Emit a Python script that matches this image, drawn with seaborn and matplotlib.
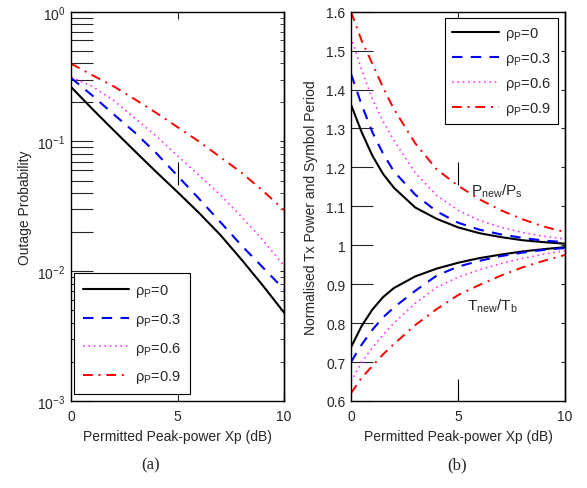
import numpy as np
import pandas as pd
import matplotlib
matplotlib.use("Agg")
import matplotlib.pyplot as plt
import seaborn as sns
from matplotlib.ticker import LogLocator, NullFormatter

sns.set_style("white")
plt.rcParams['font.family'] = ['Liberation Sans', 'DejaVu Sans']
plt.rcParams['mathtext.fontset'] = 'custom'
plt.rcParams['mathtext.rm'] = 'Liberation Sans'
plt.rcParams['mathtext.it'] = 'Liberation Sans'

rho_labels = [r'$\mathrm{\rho_P}$=0', r'$\mathrm{\rho_P}$=0.3',
              r'$\mathrm{\rho_P}$=0.6', r'$\mathrm{\rho_P}$=0.9']

# (a) outage probability vs permitted peak power Xp (dB)
xp_a = [0, 1, 2, 3, 4, 5, 6, 7, 8, 9, 10]
outage_0 = [0.263, 0.178, 0.122, 0.0841, 0.0582, 0.0407, 0.0282, 0.0191, 0.0123, 0.00776, 0.00479]
outage_3 = [0.309, 0.226, 0.162, 0.117, 0.0813, 0.0543, 0.0363, 0.0240, 0.0158, 0.0107, 0.00724]
outage_6 = [0.313, 0.266, 0.207, 0.151, 0.110, 0.0776, 0.0550, 0.0389, 0.0263, 0.0174, 0.0110]
outage_9 = [0.398, 0.324, 0.266, 0.211, 0.166, 0.129, 0.100, 0.0759, 0.0575, 0.0417, 0.0295]

# (b) normalised Tx power P_new/P_s and symbol period T_new/T_b
xp_b = [0, 0.5, 1, 1.5, 2, 3, 4, 5, 6, 7, 8, 9, 10]
power_0 = [1.361, 1.290, 1.230, 1.183, 1.148, 1.097, 1.068, 1.046, 1.031, 1.021, 1.013, 1.008, 1.004]
power_3 = [1.440, 1.360, 1.290, 1.235, 1.190, 1.130, 1.087, 1.058, 1.040, 1.028, 1.019, 1.012, 1.008]
power_6 = [1.535, 1.450, 1.375, 1.318, 1.270, 1.186, 1.128, 1.090, 1.064, 1.046, 1.033, 1.023, 1.016]
power_9 = [1.600, 1.525, 1.466, 1.405, 1.350, 1.262, 1.195, 1.153, 1.118, 1.090, 1.067, 1.048, 1.034]
period_0 = [0.738, 0.793, 0.835, 0.867, 0.890, 0.920, 0.940, 0.955, 0.967, 0.976, 0.984, 0.990, 0.995]
period_3 = [0.700, 0.745, 0.783, 0.815, 0.840, 0.883, 0.922, 0.945, 0.960, 0.972, 0.981, 0.988, 0.993]
period_6 = [0.650, 0.700, 0.737, 0.770, 0.800, 0.851, 0.892, 0.918, 0.937, 0.953, 0.966, 0.977, 0.986]
period_9 = [0.620, 0.660, 0.690, 0.720, 0.746, 0.795, 0.836, 0.872, 0.898, 0.922, 0.943, 0.960, 0.975]

styles = [dict(color='black', linestyle='-', linewidth=1.5),
          dict(color='#0000ff', linestyle=(0, (5, 4)), linewidth=1.5),
          dict(color='#ff33ff', linestyle=(0, (1, 2.2)), linewidth=1.2),
          dict(color='#ff0000', linestyle=(0, (5, 3, 1, 3)), linewidth=1.4)]

fig = plt.figure(figsize=(5.87, 4.89), dpi=100)
ax1 = fig.add_axes([0.121, 0.178, 0.363, 0.796])
ax2 = fig.add_axes([0.598, 0.178, 0.3646, 0.796])

# ---- (a)
for vals, lab, st in zip([outage_0, outage_3, outage_6, outage_9], rho_labels, styles):
    sns.lineplot(x=xp_a, y=vals, ax=ax1, label=lab, **st)
ax1.set_yscale('log')
ax1.set_xlim(0, 10)
ax1.set_ylim(1e-3, 1)
ax1.set_xticks([0, 5, 10])
ax1.set_yticks([1e-3, 1e-2, 1e-1, 1])
ax1.set_yticklabels([r'$10^{-3}$', r'$10^{-2}$', r'$10^{-1}$', r'$10^{0}$'])
ax1.yaxis.set_minor_locator(LogLocator(base=10, subs=np.arange(2, 10)))
ax1.yaxis.set_minor_formatter(NullFormatter())
ax1.tick_params(axis='y', which='both', direction='in', length=16, width=0.8,
                left=True, right=False, labelsize=10, pad=4)
ax1.tick_params(axis='x', direction='in', length=5, width=0.8, top=True,
                bottom=True, labelsize=10, pad=6)
sec1 = ax1.secondary_yaxis('right')
sec1.set_yticks([1e-3, 1e-2, 1e-1, 1])
sec1.yaxis.set_minor_locator(LogLocator(base=10, subs=np.arange(2, 10)))
sec1.yaxis.set_minor_formatter(NullFormatter())
sec1.tick_params(axis='y', which='both', direction='in', length=3, labelright=False)
sec1.set_yticklabels([])
ax1.set_ylabel('Outage Probability', fontsize=10)
ax1.yaxis.set_label_coords(-0.185, 0.5)
ax1.set_xlabel('Permitted Peak-power Xp (dB)', fontsize=10)
ax1.vlines([5], [0.0464], [0.0697], color='black', linewidth=0.8)
leg1 = ax1.legend(loc='lower left', bbox_to_anchor=(0.014, 0.018), borderaxespad=0,
                  fontsize=10.5, handlelength=3.2, handletextpad=0.4,
                  labelspacing=0.8, borderpad=0.6, fancybox=False, framealpha=1)
leg1.get_frame().set_edgecolor('black')
leg1.get_frame().set_linewidth(0.8)

# ---- (b)
for up, lo, lab, st in zip([power_0, power_3, power_6, power_9],
                           [period_0, period_3, period_6, period_9],
                           rho_labels, styles):
    sns.lineplot(x=xp_b, y=up, ax=ax2, label=lab, **st)
    sns.lineplot(x=xp_b, y=lo, ax=ax2, legend=False, **st)
ax2.set_xlim(0, 10)
ax2.set_ylim(0.6, 1.6)
ax2.set_xticks([0, 5, 10])
yt = [0.6, 0.7, 0.8, 0.9, 1.0, 1.1, 1.2, 1.3, 1.4, 1.5, 1.6]
ax2.set_yticks(yt)
ax2.set_yticklabels(['%g' % v for v in yt])
ax2.tick_params(axis='y', direction='in', length=16, width=0.8, left=True,
                right=False, labelsize=10, pad=4)
ax2.tick_params(axis='x', direction='in', length=5, width=0.8, top=True,
                bottom=True, labelsize=10, pad=6)
sec2 = ax2.secondary_yaxis('right')
sec2.set_yticks(yt)
sec2.tick_params(axis='y', direction='in', length=3, labelright=False)
sec2.set_yticklabels([])
ax2.set_ylabel('Normalised Tx Power and Symbol Period', fontsize=10)
ax2.yaxis.set_label_coords(-0.155, 0.5)
ax2.set_xlabel('Permitted Peak-power Xp (dB)', fontsize=10)
ax2.vlines([5, 5], [1.155, 0.6], [1.214, 0.657], color='black', linewidth=0.8)
ax2.text(5.6, 1.14, r'P$_\mathrm{new}$/P$_\mathrm{s}$', fontsize=11, va='center')
ax2.text(5.4, 0.845, r'T$_\mathrm{new}$/T$_\mathrm{b}$', fontsize=11, va='center')
leg2 = ax2.legend(loc='upper right', bbox_to_anchor=(0.967, 0.985), borderaxespad=0,
                  fontsize=10.5, handlelength=3.2, handletextpad=0.4,
                  labelspacing=0.55, borderpad=0.5, fancybox=False, framealpha=1)
leg2.get_frame().set_edgecolor('black')
leg2.get_frame().set_linewidth(0.8)

for ax in (ax1, ax2):
    for sp in ax.spines.values():
        sp.set_color('black')
        sp.set_linewidth(1.0)
for sec in (sec1, sec2):
    sec.spines['right'].set_linewidth(1.0)

fig.text(0.256, 0.049, '(a)', fontsize=12, family='Liberation Serif', ha='center', va='center')
fig.text(0.779, 0.049, '(b)', fontsize=12, family='Liberation Serif', ha='center', va='center')

fig.savefig('out.png', dpi=100)
